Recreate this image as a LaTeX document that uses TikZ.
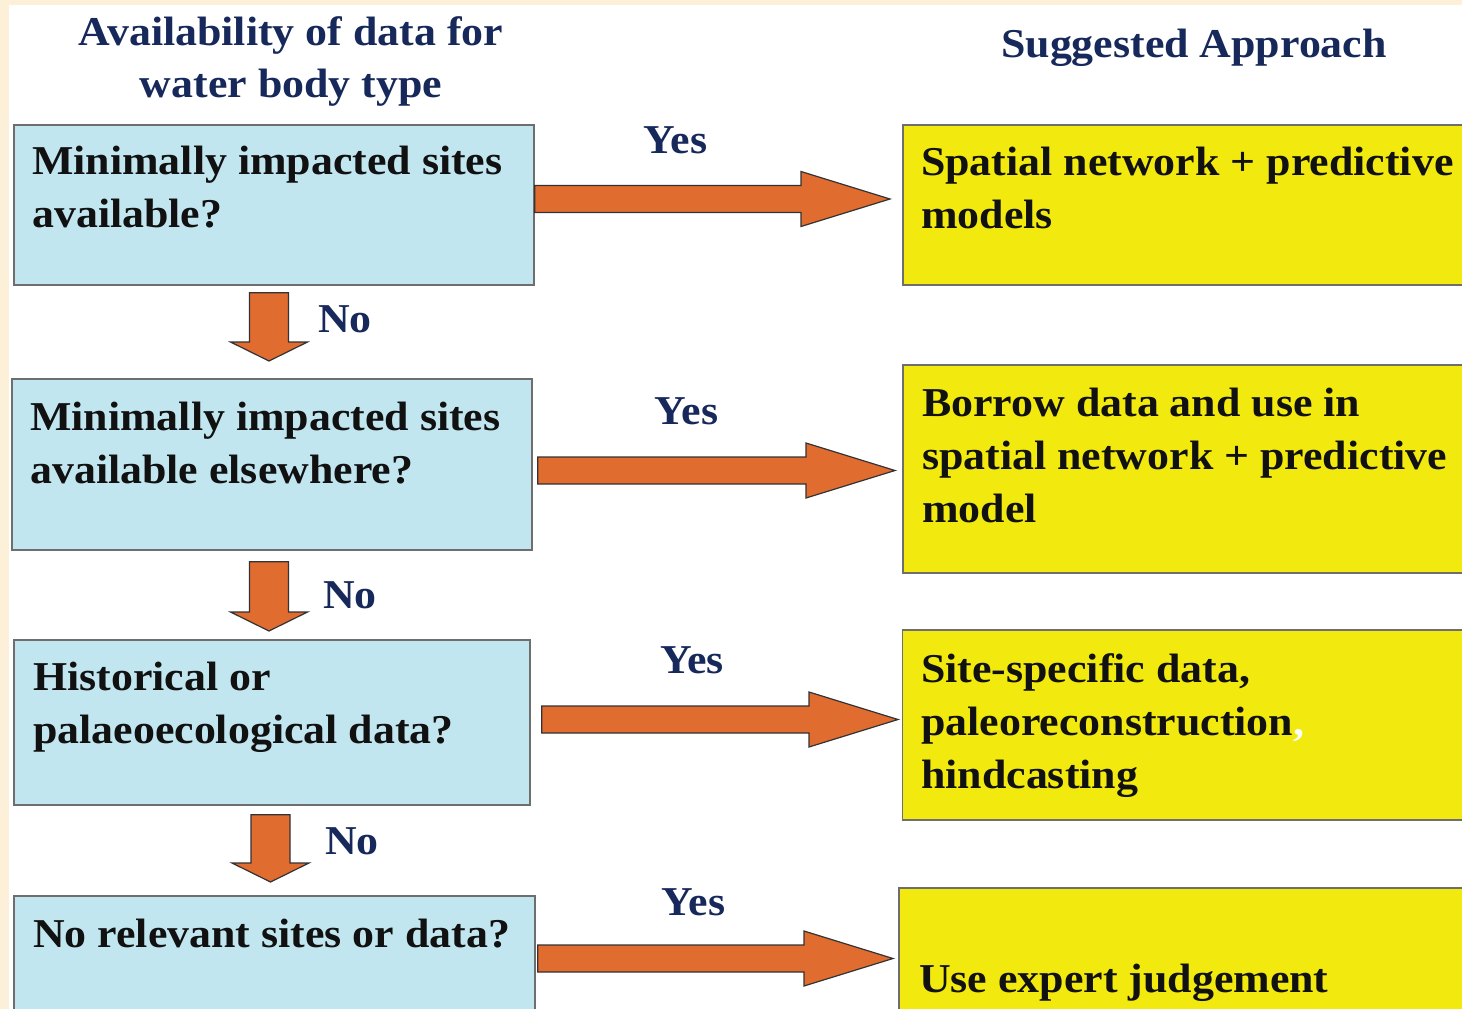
\documentclass[tikz,border=0pt]{standalone}
\usepackage{fontspec}
\setmainfont{Liberation Serif}[FakeStretch=1.07]
\usetikzlibrary{calc}
\definecolor{cream}{HTML}{FCF0D8}
\definecolor{boxblue}{HTML}{C2E6F0}
\definecolor{boxyellow}{HTML}{F2E90E}
\definecolor{navy}{HTML}{17295B}
\definecolor{arroworange}{HTML}{E06C30}
\definecolor{edgegray}{HTML}{6E6E6E}
\definecolor{ink}{HTML}{111111}

% horizontal block arrow: from node, to node, y, start gap, end gap
\newcommand\fatH[5]{%
  \coordinate (yy) at (0,#3);
  \coordinate (s) at ($(#1.east |- yy)+(#4,0)$);
  \coordinate (t) at ($(#2.west |- yy)+(-#5,0)$);
  \draw[fat] ($(s)+(0,-13.5)$) -- ($(t)+(-89,-13.5)$) -- ($(t)+(-89,-27.5)$) -- (t)
    -- ($(t)+(-89,27.5)$) -- ($(t)+(-89,13.5)$) -- ($(s)+(0,13.5)$) -- cycle;}
% vertical block arrow: from node, to node, x, start gap, end gap
\newcommand\fatV[5]{%
  \coordinate (xx) at (#3,0);
  \coordinate (s) at ($(#1.south -| xx)+(0,#4)$);
  \coordinate (t) at ($(#2.north -| xx)+(0,-#5)$);
  \draw[fat] ($(s)+(-19.5,0)$) -- ($(t)+(-19.5,-19)$) -- ($(t)+(-38.5,-19)$) -- (t)
    -- ($(t)+(38.5,-19)$) -- ($(t)+(19.5,-19)$) -- ($(s)+(19.5,0)$) -- cycle;}

\begin{document}
\begin{tikzpicture}[x=1pt,y=-1pt,
  qbox/.style={draw=edgegray, line width=1.8pt, fill=boxblue, inner sep=0pt, anchor=north west},
  abox/.style={draw=edgegray, line width=1.8pt, fill=boxyellow, inner sep=0pt, anchor=north west},
  boxtext/.style={anchor=base west, inner sep=0pt, align=left, text=ink,
    font=\bfseries\fontsize{41}{53}\selectfont},
  lab/.style={anchor=base, inner sep=0pt, text=navy, font=\bfseries\fontsize{41}{52}\selectfont},
  fat/.style={fill=arroworange, draw=black!80, line width=1.2pt, line join=miter}]

\useasboundingbox (0,0) rectangle (1462,1009);
\clip (0,0) rectangle (1462,1009);
\fill[cream] (0,0) rectangle (1462,1009);
\fill[white] (9,5) rectangle (1462,1009);

% headings (anchor = baseline of the last line)
\node[lab, align=center] (h1) at (291,97) {Availability of data for\\water body type};
\node[lab] (h2) at (1194,57) {Suggested Approach};

% question boxes
\node[qbox, minimum width=520pt, minimum height=160pt] (L1) at (13,124) {};
\node[qbox, minimum width=520pt, minimum height=171pt] (L2) at (11,378) {};
\node[qbox, minimum width=516pt, minimum height=165pt] (L3) at (13,639) {};
\node[qbox, minimum width=521pt, minimum height=140pt] (L4) at (13,895) {};

% approach boxes
\node[abox, minimum width=600pt, minimum height=160pt] (R1) at (902,124) {};
\node[abox, minimum width=600pt, minimum height=208pt] (R2) at (902,364) {};
\node[abox, minimum width=600pt, minimum height=190pt] (R3) at (901.5,629) {};
\node[abox, minimum width=600pt, minimum height=150pt] (R4) at (898,887) {};

% texts (anchor = baseline of the last line)
\node[boxtext] (L1t) at (32,227) {Minimally impacted sites\\available?};
\node[boxtext] (L2t) at (30,483) {Minimally impacted sites\\available elsewhere?};
\node[boxtext] (L3t) at (33,743) {Historical or\\palaeoecological data?};
\node[boxtext] (L4t) at (33,947) {No relevant sites or data?};
\node[boxtext] (R1t) at (921,228) {Spatial network + predictive\\models};
\node[boxtext] (R2t) at (922,522) {Borrow data and use in\\spatial network + predictive\\model};
\node[boxtext] (R3t) at (921,788) {Site-specific data,\\paleoreconstruction{\color{white},}\\hindcasting};
\node[boxtext] (R4t) at (919,992) {Use expert judgement};

% Yes arrows
\fatH{L1}{R1}{199}{0}{12}
\fatH{L2}{R2}{470.5}{5}{7}
\fatH{L3}{R3}{719.5}{11}{3.5}
\fatH{L4}{R4}{958.5}{2}{5}

% No arrows
\fatV{L1}{L2}{269}{7}{17}
\fatV{L2}{L3}{269}{11}{8}
\fatV{L3}{L4}{270.5}{9}{13}

% labels
\node[lab] (y1) at (675.5,153) {Yes};
\node[lab] (y2) at (686.5,424) {Yes};
\node[lab] (y3) at (692,673) {Yes};
\node[lab] (y4) at (693.5,915) {Yes};
\node[lab, anchor=base west] (n1) at (318,332) {No};
\node[lab, anchor=base west] (n2) at (323,608) {No};
\node[lab, anchor=base west] (n3) at (325,854) {No};
\end{tikzpicture}
\end{document}
